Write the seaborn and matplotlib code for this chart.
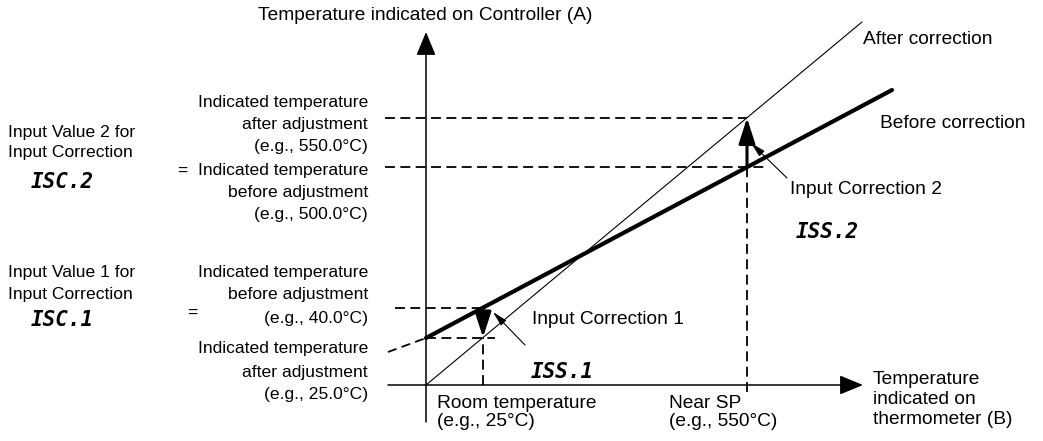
import matplotlib
matplotlib.use("Agg")
import matplotlib.pyplot as plt
import seaborn as sns
import pandas as pd

# Diagram units: the two axes cross at (0, 0); the scale is schematic.
axis_x_span = [-38, 437]       # horizontal axis (thermometer, B)
axis_y_span = [-37, 353]       # vertical axis (controller, A)

# Characteristic lines
after_x = [0, 436]             # after correction (A = B)
after_y = [0, 363]
before_x = [0, 466]            # before correction
before_y = [47, 295]
before_ext_x = [-38, 0]        # dashed continuation below the axis
before_ext_y = [33, 47]

# Correction points
room_x = 57                    # room temperature (e.g. 25 °C)
room_before = 77               # indicated before adjustment (40.0 °C)
room_after = 47.5              # indicated after adjustment (25.0 °C)
sp_x = 321                     # near SP (e.g. 550 °C)
sp_before = 218                # indicated before adjustment (500.0 °C)
sp_after = 267                 # indicated after adjustment (550.0 °C)

sns.set_theme(style="white")
plt.rcParams["font.family"] = ["Liberation Sans", "DejaVu Sans"]

fig = plt.figure(figsize=(10.43, 4.41), dpi=100)
ax = fig.add_axes([0, 0, 1, 1])
ax.set_xlim(-426, 617)
ax.set_ylim(-56, 385)
ax.axis("off")

lines = pd.DataFrame({
    "x": after_x + before_x,
    "y": after_y + before_y,
    "state": ["after"] * 2 + ["before"] * 2,
})
sns.lineplot(data=lines[lines.state == "after"], x="x", y="y", ax=ax,
             color="black", lw=0.8, legend=False)
sns.lineplot(data=lines[lines.state == "before"], x="x", y="y", ax=ax,
             color="black", lw=3.0, legend=False, solid_capstyle="round")
ax.plot(before_ext_x, before_ext_y, color="black", lw=1.3, ls=(0, (5, 3)))

K = "black"
axis_arrow = dict(arrowstyle="-|>,head_length=1.45,head_width=0.6",
                  color=K, lw=1.1, mutation_scale=10, shrinkA=0, shrinkB=0)
ax.annotate("", xy=(0, axis_y_span[1]), xytext=(0, axis_y_span[0]),
            arrowprops=axis_arrow)
ax.annotate("", xy=(axis_x_span[1], 0), xytext=(axis_x_span[0], 0),
            arrowprops=axis_arrow)

dash = dict(color=K, lw=1.3, ls=(0, (5.5, 3)))
# room temperature guides
ax.plot([-31, room_x], [room_before, room_before], **dash)
ax.plot([0, room_x + 12], [room_after, room_after], **dash)
ax.plot([room_x, room_x], [0, room_after], **dash)
# near-SP guides
ax.plot([-41, sp_x], [sp_after, sp_after], **dash)
ax.plot([-41, sp_x + 18], [sp_before, sp_before], **dash)
ax.plot([sp_x, sp_x], [-7, sp_after], **dash)

corr_arrow = dict(arrowstyle="-|>,head_length=1.55,head_width=0.5",
                  color=K, lw=2.2, mutation_scale=10, shrinkA=0, shrinkB=0)
ax.annotate("", xy=(room_x, room_after), xytext=(room_x, room_before),
            arrowprops=corr_arrow)
ax.annotate("", xy=(sp_x, sp_after), xytext=(sp_x, sp_before),
            arrowprops=corr_arrow)

pointer = dict(arrowstyle="-|>,head_length=0.9,head_width=0.22",
               color=K, lw=0.8, mutation_scale=10, shrinkA=0, shrinkB=0)
ax.annotate("", xy=(67, 73), xytext=(99, 40), arrowprops=pointer)
ax.annotate("", xy=(325, 242), xytext=(361, 207), arrowprops=pointer)

fs_left = 12.6
fs = 13.8
def T(x, y, s, ha="left", size=fs, **kw):
    ax.text(x, y, s, ha=ha, va="center", fontsize=size, color=K, **kw)

T(-1, 370, "Temperature indicated on Controller (A)", ha="center")
T(437, 345, "After correction")
T(454, 262, "Before correction")

# upper left block
for y, s in zip([282, 261, 239, 215, 192, 170],
                ["Indicated temperature", "after adjustment",
                 "(e.g., 550.0\u00b0C)", "=  Indicated temperature",
                 "before adjustment", "(e.g., 500.0\u00b0C)"]):
    T(-58, y, s, ha="right", size=fs_left)
T(-418, 252, "Input Value 2 for", size=fs_left)
T(-418, 232, "Input Correction", size=fs_left)

# lower left block
for y, s in zip([112, 90, 67, 36, 13, -9],
                ["Indicated temperature", "before adjustment",
                 "(e.g., 40.0\u00b0C)", "Indicated temperature",
                 "after adjustment", "(e.g., 25.0\u00b0C)"]):
    T(-58, y, s, ha="right", size=fs_left)
T(-234, 72, "=", ha="center", size=fs_left)
T(-418, 113, "Input Value 1 for", size=fs_left)
T(-418, 91, "Input Correction", size=fs_left)

seg = dict(size=15, family="DejaVu Sans Mono", style="italic",
           fontweight="bold")
T(-364, 203, "ISC.2", ha="center", **seg)
T(-364, 65, "ISC.1", ha="center", **seg)
T(401, 153, "ISS.2", ha="center", **seg)
T(136, 13, "ISS.1", ha="center", **seg)

T(364, 196, "Input Correction 2")
T(106, 65, "Input Correction 1")

T(11, -18, "Room temperature")
T(11, -37, "(e.g., 25\u00b0C)")
T(243, -18, "Near SP")
T(243, -37, "(e.g., 550\u00b0C)")
T(447, 5, "Temperature")
T(447, -15, "indicated on")
T(447, -35, "thermometer (B)")

fig.savefig("out.png", dpi=100)
